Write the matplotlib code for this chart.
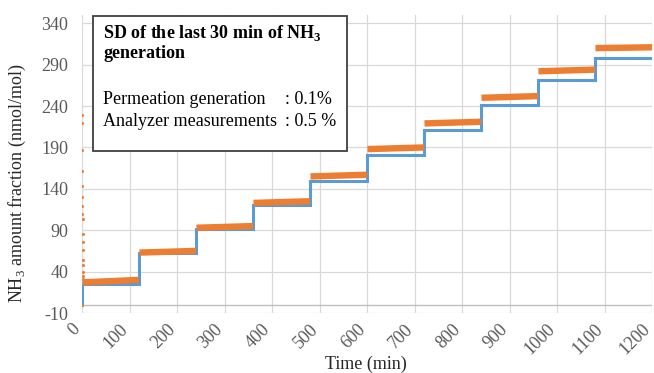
import matplotlib
matplotlib.use("Agg")
import matplotlib.pyplot as plt
import matplotlib.patches as patches
import matplotlib.transforms as mtransforms

plt.rcParams['font.family'] = ['Liberation Serif', 'DejaVu Serif']
plt.rcParams['mathtext.fontset'] = 'custom'
plt.rcParams['mathtext.rm'] = 'Liberation Serif'
plt.rcParams['mathtext.bf'] = 'Liberation Serif:bold'
plt.rcParams['axes.unicode_minus'] = False

# ---------------- data ----------------
step_start = [0, 120, 240, 360, 480, 600, 720, 840, 960, 1080]
step_len = 120
# permeation generation (blue)
gen_levels = [25, 62, 91, 120, 150, 181, 211, 241, 271, 298]
# analyzer measurements (orange), level at start and end of each step
meas_start = [27, 63, 93, 123, 155, 188, 219, 250, 282, 310]
meas_end = [30, 65, 95, 125, 157, 190, 221, 252, 284, 311]
# start-up transient of the analyzer at t ~ 0
trans_t = [0, 0.3, 0.4, 0.5, 0.6, 0.7, 0.8, 0.9, 1.0, 1.1, 1.2, 1.3, 1.4, 1.5, 1.7, 2.0, 2.5, 3.0]
trans_y = [0, 229, 219, 187, 162, 144, 130, 119, 110, 103, 85, 76, 66, 54, 48, 40, 35, 31]

xticks = list(range(0, 1201, 100))
yticks = list(range(-10, 341, 50))

fig = plt.figure(figsize=(6.54, 3.73), dpi=100)
ax = fig.add_axes([82 / 654, 1 - 313 / 373, 570 / 654, 298 / 373])

# blue step line
gx, gy = [0], [0]
for t0, lvl in zip(step_start, gen_levels):
    gx += [t0, t0 + step_len]
    gy += [lvl, lvl]
ax.plot(gx, gy, color='#5B9BD5', lw=2.2, zorder=3, solid_joinstyle='miter')

# orange measurement bands
for t0, a, b in zip(step_start, meas_start, meas_end):
    ax.plot([t0 + 1, t0 + step_len], [a, b], color='#ED7D31', lw=4.6,
            zorder=4, solid_capstyle='butt')
ax.plot(trans_t, trans_y, 'o', color='#ED7D31', ms=2.2, mec='none', zorder=5)

ax.set_xlim(0, 1200)
ax.set_ylim(-10, 350)
ax.set_xticks(xticks)
ax.set_yticks(yticks)
ax.grid(True, color='#D9D9D9', lw=0.9)
ax.set_axisbelow(True)
ax.axhline(0, color='#BFBFBF', lw=1.0, zorder=1)
for s in ax.spines.values():
    s.set_visible(False)
ax.tick_params(length=0, labelsize=13, labelcolor='#595959')
ax.tick_params(axis='y', pad=10)
ax.tick_params(axis='x', pad=10)
shift = mtransforms.ScaledTranslation(-3 / 72, 0, fig.dpi_scale_trans)
for lab in ax.get_xticklabels():
    lab.set_rotation(45)
    lab.set_ha('right')
    lab.set_va('center')
    lab.set_rotation_mode('anchor')
    lab.set_transform(lab.get_transform() + shift)

fig.text(366 / 654, 1 - 364 / 373, 'Time (min)', ha='center', va='center',
         fontsize=13, color='#262626')
fig.text(17 / 654, 1 - 183 / 373, 'NH$_3$ amount fraction (nmol/mol)', ha='center',
         va='center', rotation=90, fontsize=13, color='#262626')

# annotation box
x0, x1 = 93 / 654, 347 / 654
y0, y1 = 1 - 151 / 373, 1 - 16 / 373
fig.patches.append(patches.Rectangle((x0, y0), x1 - x0, y1 - y0, transform=fig.transFigure,
                                     facecolor='white', edgecolor='#404040', lw=1.3, zorder=10))
tx = 103 / 654
fig.text(tx, 1 - 33 / 373, r'SD of the last 30 min of NH$_\mathbf{3}$', fontsize=13,
         fontweight='bold', va='center', zorder=11)
fig.text(tx, 1 - 54 / 373, 'generation', fontsize=13, fontweight='bold', va='center', zorder=11)
fig.text(tx, 1 - 99 / 373, 'Permeation generation', fontsize=13, va='center', zorder=11)
fig.text(tx, 1 - 121 / 373, 'Analyzer measurements', fontsize=13, va='center', zorder=11)
fig.text(285 / 654, 1 - 99 / 373, ': 0.1%', fontsize=13, va='center', zorder=11)
fig.text(285 / 654, 1 - 121 / 373, ': 0.5 %', fontsize=13, va='center', zorder=11)

fig.savefig('out.png', dpi=100)
